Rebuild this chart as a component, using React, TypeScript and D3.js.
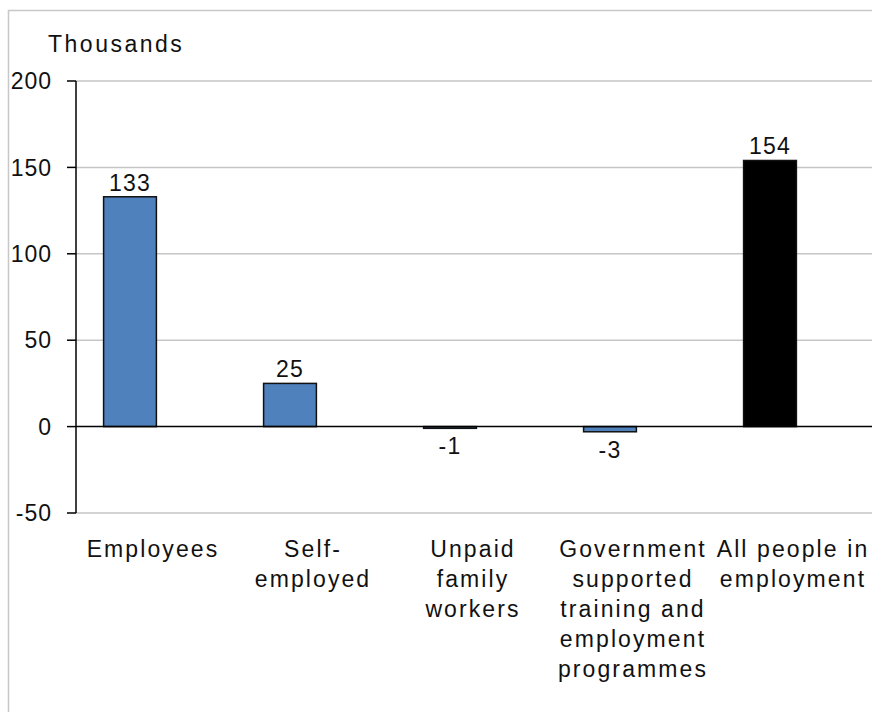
import React from "react";
import * as d3 from "d3";

const categories = ["Employees", "Self-employed", "Unpaid family workers", "Government supported training and employment programmes", "All people in employment"];
const categoryLines = [
  ["Employees"],
  ["Self-", "employed"],
  ["Unpaid", "family", "workers"],
  ["Government", "supported", "training and", "employment", "programmes"],
  ["All people in", "employment"],
];
const values = [133, 25, -1, -3, 154];
const barColors = ["#4F81BD", "#4F81BD", "#4F81BD", "#4F81BD", "#000000"];
const yTicks = [-50, 0, 50, 100, 150, 200];
const yUnit = "Thousands";

const W = 872;
const H = 712;
const FONT = "'Liberation Sans', Arial, sans-serif";

export default function App() {
  const axisX = 76;
  const y = d3.scaleLinear().domain([-50, 200]).range([513, 81]);
  const x = d3
    .scaleBand<string>()
    .domain(categories)
    .range([50, 850])
    .paddingInner(0.67)
    .paddingOuter(0.335);
  const bw = x.bandwidth();

  return (
    <svg
      width={W}
      height={H}
      style={{ position: "absolute", left: 0, top: 0, background: "#fff" }}
      fontFamily={FONT}
    >
      <rect x={8.5} y={10.5} width={W + 20} height={H + 20} fill="#fff" stroke="#c8c8c8" strokeWidth={1.5} />
      <text x={48} y={52} fontSize={23} letterSpacing={2.5} fill="#111">
        {yUnit}
      </text>
      {yTicks.map((t) => (
        <g key={t}>
          {t !== 0 && (
            <line x1={axisX} x2={W} y1={y(t)} y2={y(t)} stroke="#c6c6c6" strokeWidth={1.5} />
          )}
          <line x1={67} x2={axisX} y1={y(t)} y2={y(t)} stroke="#000" strokeWidth={1.5} />
          <text x={52} y={y(t)} dy="0.36em" textAnchor="end" fontSize={23} letterSpacing={1} fill="#111">
            {t}
          </text>
        </g>
      ))}
      {categories.map((c, i) => {
        const v = values[i];
        const x0 = x(c)!;
        const top = y(Math.max(0, v));
        const bot = y(Math.min(0, v));
        const cx = x0 + bw / 2;
        return (
          <g key={c}>
            <rect
              x={x0}
              y={top}
              width={bw}
              height={Math.max(bot - top, 1)}
              fill={barColors[i]}
              stroke="#111"
              strokeWidth={1.5}
            />
            <text
              x={cx}
              y={v >= 0 ? top - 6 : bot + 26}
              textAnchor="middle"
              fontSize={23}
              letterSpacing={1.2}
              fill="#111"
            >
              {v}
            </text>
            {categoryLines[i].map((ln, j) => (
              <text
                key={j}
                x={cx + 23}
                y={557 + j * 30}
                textAnchor="middle"
                fontSize={23}
                letterSpacing={2.1}
                fill="#111"
              >
                {ln}
              </text>
            ))}
          </g>
        );
      })}
      <line x1={axisX} x2={W} y1={y(0)} y2={y(0)} stroke="#000" strokeWidth={1.5} />
      <line x1={axisX} x2={axisX} y1={y(200)} y2={y(-50)} stroke="#000" strokeWidth={1.5} />
    </svg>
  );
}
